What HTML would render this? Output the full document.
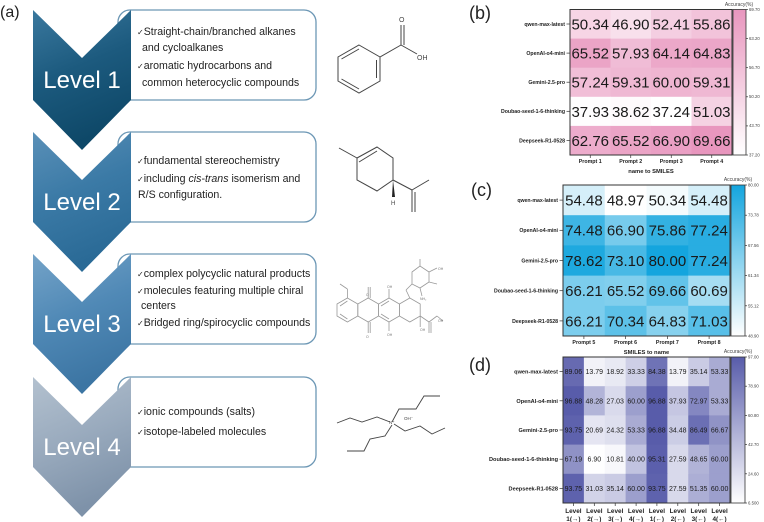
<!DOCTYPE html>
<html><head><meta charset="utf-8"><style>
html,body{margin:0;padding:0;background:#fff;}
svg{display:block;}
</style></head><body>
<svg width="764" height="522" viewBox="0 0 764 522" xmlns="http://www.w3.org/2000/svg" font-family="Liberation Sans, DejaVu Sans, sans-serif">
<defs>
<linearGradient id="g1" x1="0" y1="0" x2="0.3" y2="1"><stop offset="0" stop-color="#3a789e"/><stop offset="0.5" stop-color="#1c5a7e"/><stop offset="1" stop-color="#0e4868"/></linearGradient>
<linearGradient id="g2" x1="0" y1="0" x2="0.3" y2="1"><stop offset="0" stop-color="#5a90b8"/><stop offset="0.5" stop-color="#3b7aa6"/><stop offset="1" stop-color="#2a6a96"/></linearGradient>
<linearGradient id="g3" x1="0" y1="0" x2="0.3" y2="1"><stop offset="0" stop-color="#74a3c8"/><stop offset="0.5" stop-color="#5089b6"/><stop offset="1" stop-color="#3c75a3"/></linearGradient>
<linearGradient id="g4" x1="0" y1="0" x2="0.3" y2="1"><stop offset="0" stop-color="#b3c1cf"/><stop offset="0.5" stop-color="#9aabbe"/><stop offset="1" stop-color="#7e92a9"/></linearGradient>
<linearGradient id="cbp" x1="0" y1="1" x2="0" y2="0"><stop offset="0" stop-color="#ffffff"/><stop offset="1" stop-color="rgb(232,150,190)"/></linearGradient>
<linearGradient id="cbb" x1="0" y1="1" x2="0" y2="0"><stop offset="0" stop-color="#ffffff"/><stop offset="1" stop-color="rgb(20,165,222)"/></linearGradient>
<linearGradient id="cbd" x1="0" y1="1" x2="0" y2="0"><stop offset="0" stop-color="#ffffff"/><stop offset="1" stop-color="rgb(88,92,170)"/></linearGradient>
</defs>

<!-- (a) -->
<text x="0" y="17" font-size="16" fill="#222">(a)</text>

<!-- boxes -->
<g fill="#fff" stroke="#6c97b5" stroke-width="1.3">
<rect x="118" y="10" width="198" height="90" rx="12"/>
<rect x="118" y="132" width="198" height="90" rx="12"/>
<rect x="118" y="254" width="198" height="90" rx="12"/>
<rect x="118" y="377" width="198" height="90" rx="12"/>
</g>
<!-- chevrons -->
<polygon points="33,10 82,58 131,10 131,100 82,150 33,100" fill="url(#g1)"/>
<polygon points="33,132 82,180 131,132 131,222 82,272 33,222" fill="url(#g2)"/>
<polygon points="33,254 82,302 131,254 131,344 82,394 33,344" fill="url(#g3)"/>
<polygon points="33,377 82,425 131,377 131,467 82,517 33,467" fill="url(#g4)"/>
<g fill="#fff" font-size="24" text-anchor="middle">
<text x="82" y="88">Level 1</text>
<text x="82" y="210">Level 2</text>
<text x="82" y="332">Level 3</text>
<text x="82" y="455">Level 4</text>
</g>
<g font-size="10.6" fill="#222">
<text x="137" y="35"><tspan font-size="8" font-family="DejaVu Sans, sans-serif">✓</tspan>Straight-chain/branched alkanes</text>
<text x="142" y="51">and cycloalkanes</text>
<text x="137" y="69"><tspan font-size="8" font-family="DejaVu Sans, sans-serif">✓</tspan>aromatic hydrocarbons and</text>
<text x="142" y="86">common heterocyclic compounds</text>
<text x="137" y="164"><tspan font-size="8" font-family="DejaVu Sans, sans-serif">✓</tspan>fundamental stereochemistry</text>
<text x="137" y="182"><tspan font-size="8" font-family="DejaVu Sans, sans-serif">✓</tspan>including <tspan font-style="italic">cis-trans</tspan> isomerism and</text>
<text x="138" y="198">R/S configuration.</text>
<text x="137" y="277"><tspan font-size="8" font-family="DejaVu Sans, sans-serif">✓</tspan>complex polycyclic natural products</text>
<text x="137" y="294"><tspan font-size="8" font-family="DejaVu Sans, sans-serif">✓</tspan>molecules featuring multiple chiral</text>
<text x="141" y="309">centers</text>
<text x="137" y="326"><tspan font-size="8" font-family="DejaVu Sans, sans-serif">✓</tspan>Bridged ring/spirocyclic compounds</text>
<text x="137" y="415"><tspan font-size="8" font-family="DejaVu Sans, sans-serif">✓</tspan>ionic compounds (salts)</text>
<text x="137" y="435"><tspan font-size="8" font-family="DejaVu Sans, sans-serif">✓</tspan>isotope-labeled molecules</text>
</g>

<!-- molecule 1: benzoic acid -->
<g stroke="#444" stroke-width="1" fill="none">
<polygon points="359,45 380,57 380,81 359,93 338,81 338,57"/>
<line x1="341.5" y1="59" x2="359" y2="49"/>
<line x1="376.5" y1="60" x2="376.5" y2="78"/>
<line x1="359" y1="89" x2="341.5" y2="79"/>
<line x1="380" y1="57" x2="401" y2="45"/>
<line x1="401" y1="45" x2="401" y2="25"/>
<line x1="404" y1="45" x2="404" y2="25"/>
<line x1="401" y1="45" x2="417" y2="54"/>
</g>
<g font-size="7" fill="#444"><text x="399" y="22">O</text><text x="417" y="60">OH</text></g>

<!-- molecule 2: limonene -->
<g stroke="#444" stroke-width="1" fill="none">
<polyline points="357,158 377,147 393,158 393,180 377,191 357,180 357,158"/>
<line x1="359" y1="162" x2="377" y2="151"/>
<line x1="339" y1="148" x2="357" y2="158"/>
<line x1="393" y1="180" x2="412" y2="190"/>
<line x1="412" y1="190" x2="429" y2="180"/>
<line x1="412" y1="190" x2="412" y2="212"/>
<line x1="415" y1="192" x2="415" y2="212"/>
</g>
<polygon points="393,180 392,197 395,197" fill="#222"/>
<text x="391" y="205" font-size="6" fill="#444">H</text>

<!-- molecule 3: doxorubicin-like -->
<g stroke="#999" stroke-width="0.8" fill="none">
<polygon points="347.4,298 357.8,304 357.8,316 347.4,322 337,316 337,304"/>
<polygon points="368.2,298 378.6,304 378.6,316 368.2,322 357.8,316 357.8,304"/>
<polygon points="389,298 399.4,304 399.4,316 389,322 378.6,316 378.6,304"/>
<polygon points="409.8,298 420.2,304 420.2,316 409.8,322 399.4,316 399.4,304"/>
<line x1="340" y1="306" x2="347.4" y2="301"/>
<line x1="340" y1="314" x2="347.4" y2="319"/>
<line x1="381" y1="306" x2="389" y2="301"/>
<line x1="381" y1="314" x2="389" y2="319"/>
<line x1="347.4" y1="298" x2="347.4" y2="289"/>
<line x1="347.4" y1="289" x2="340" y2="284"/>
<line x1="368.2" y1="298" x2="368.2" y2="287"/>
<line x1="370.2" y1="298" x2="370.2" y2="287"/>
<line x1="368.2" y1="322" x2="368.2" y2="333"/>
<line x1="370.2" y1="322" x2="370.2" y2="333"/>
<line x1="389" y1="298" x2="389" y2="289"/>
<line x1="389" y1="322" x2="389" y2="331"/>
<line x1="409.8" y1="298" x2="406" y2="290"/>
<line x1="406" y1="290" x2="412" y2="284"/>
<polygon points="412,284 412,272 420,266 429,272 429,282 420,288"/>
<line x1="420" y1="266" x2="420" y2="259"/>
<line x1="429" y1="272" x2="437" y2="268"/>
<line x1="429" y1="282" x2="437" y2="284"/>
<line x1="420" y1="288" x2="422" y2="296"/>
<line x1="420.2" y1="316" x2="429" y2="322"/>
<line x1="420.2" y1="316" x2="420.2" y2="327"/>
<line x1="429" y1="322" x2="429" y2="333"/>
<line x1="431" y1="322" x2="431" y2="333"/>
<line x1="429" y1="322" x2="437" y2="316"/>
<line x1="437" y1="316" x2="443" y2="321"/>
</g>
<g font-size="3.5" fill="#777"><text x="366" y="296">O</text><text x="366" y="338">O</text><text x="387" y="288">OH</text><text x="387" y="336">OH</text><text x="420" y="331">OH</text><text x="438" y="322">OH</text><text x="438" y="270">OH</text><text x="420" y="300">NH₂</text></g>

<!-- molecule 4: TBAOH -->
<g stroke="#444" stroke-width="0.9" fill="none">
<polyline points="392,422 399,409 416,409 424,396 440,396"/>
<polyline points="390,422 377,417 362,422 350,418 337,423"/>
<polyline points="394,424 405,431 420,426 432,434 445,428"/>
<polyline points="392,425 385,436 370,439 364,451 347,451"/>
</g>
<g font-size="4.5" fill="#444"><text x="389" y="424">N⁺</text><text x="404" y="420">OH⁻</text></g>

<!-- panel labels -->
<g font-size="18" fill="#222"><text x="469" y="19">(b)</text><text x="471" y="196">(c)</text><text x="469" y="371">(d)</text></g>

<!-- (b) heatmap -->
<g>
<rect x="570" y="9.5" width="41" height="29.6" fill="rgb(247,213,229)"/>
<rect x="610.5" y="9.5" width="41" height="29.6" fill="rgb(248,224,236)"/>
<rect x="651" y="9.5" width="41" height="29.6" fill="rgb(244,206,225)"/>
<rect x="691.5" y="9.5" width="40.5" height="29.6" fill="rgb(242,195,218)"/>
<rect x="570" y="38.6" width="41" height="29.6" fill="rgb(235,164,198)"/>
<rect x="610.5" y="38.6" width="41" height="29.6" fill="rgb(240,188,214)"/>
<rect x="651" y="38.6" width="41" height="29.6" fill="rgb(236,168,201)"/>
<rect x="691.5" y="38.6" width="40.5" height="29.6" fill="rgb(235,166,200)"/>
<rect x="570" y="67.7" width="41" height="29.6" fill="rgb(241,190,215)"/>
<rect x="610.5" y="67.7" width="41" height="29.6" fill="rgb(239,184,211)"/>
<rect x="651" y="67.7" width="41" height="29.6" fill="rgb(239,181,209)"/>
<rect x="691.5" y="67.7" width="40.5" height="29.6" fill="rgb(239,184,211)"/>
<rect x="570" y="96.8" width="41" height="29.6" fill="rgb(254,253,254)"/>
<rect x="610.5" y="96.8" width="41" height="29.6" fill="rgb(254,250,252)"/>
<rect x="651" y="96.8" width="41" height="29.6" fill="rgb(255,255,255)"/>
<rect x="691.5" y="96.8" width="40.5" height="29.6" fill="rgb(245,210,227)"/>
<rect x="570" y="125.9" width="41" height="29.1" fill="rgb(237,172,204)"/>
<rect x="610.5" y="125.9" width="41" height="29.1" fill="rgb(235,164,198)"/>
<rect x="651" y="125.9" width="41" height="29.1" fill="rgb(234,159,196)"/>
<rect x="691.5" y="125.9" width="40.5" height="29.1" fill="rgb(232,150,190)"/>
<rect x="570" y="9.5" width="162" height="145.5" fill="none" stroke="#333" stroke-width="1"/>
<rect x="733" y="9.5" width="13" height="145.5" fill="url(#cbp)" stroke="#333" stroke-width="0.8"/>
</g>
<g font-size="15" fill="#1a1a1a" text-anchor="middle">
<text x="590.25" y="29.5">50.34</text><text x="630.75" y="29.5">46.90</text><text x="671.25" y="29.5">52.41</text><text x="711.75" y="29.5">55.86</text>
<text x="590.25" y="58.6">65.52</text><text x="630.75" y="58.6">57.93</text><text x="671.25" y="58.6">64.14</text><text x="711.75" y="58.6">64.83</text>
<text x="590.25" y="87.7">57.24</text><text x="630.75" y="87.7">59.31</text><text x="671.25" y="87.7">60.00</text><text x="711.75" y="87.7">59.31</text>
<text x="590.25" y="116.8">37.93</text><text x="630.75" y="116.8">38.62</text><text x="671.25" y="116.8">37.24</text><text x="711.75" y="116.8">51.03</text>
<text x="590.25" y="145.9">62.76</text><text x="630.75" y="145.9">65.52</text><text x="671.25" y="145.9">66.90</text><text x="711.75" y="145.9">69.66</text>
</g>
<g font-size="5.2" font-weight="bold" fill="#222" text-anchor="end">
<text x="565" y="25.9">qwen-max-latest</text>
<text x="565" y="55">OpenAI-o4-mini</text>
<text x="565" y="84.1">Gemini-2.5-pro</text>
<text x="565" y="113.2">Doubao-seed-1-6-thinking</text>
<text x="565" y="142.3">Deepseek-R1-0528</text>
</g>
<g stroke="#333" stroke-width="0.7">
<line x1="566.5" y1="24" x2="570" y2="24"/><line x1="566.5" y1="53.1" x2="570" y2="53.1"/><line x1="566.5" y1="82.2" x2="570" y2="82.2"/><line x1="566.5" y1="111.3" x2="570" y2="111.3"/><line x1="566.5" y1="140.4" x2="570" y2="140.4"/>
<line x1="590.25" y1="155" x2="590.25" y2="158"/><line x1="630.75" y1="155" x2="630.75" y2="158"/><line x1="671.25" y1="155" x2="671.25" y2="158"/><line x1="711.75" y1="155" x2="711.75" y2="158"/>
<line x1="746" y1="9.5" x2="748" y2="9.5"/><line x1="746" y1="38.6" x2="748" y2="38.6"/><line x1="746" y1="67.7" x2="748" y2="67.7"/><line x1="746" y1="96.8" x2="748" y2="96.8"/><line x1="746" y1="125.9" x2="748" y2="125.9"/><line x1="746" y1="155" x2="748" y2="155"/>
</g>
<g font-size="5.3" font-weight="bold" fill="#222" text-anchor="middle">
<text x="590.25" y="163">Prompt 1</text><text x="630.75" y="163">Prompt 2</text><text x="671.25" y="163">Prompt 3</text><text x="711.75" y="163">Prompt 4</text>
<text x="651" y="173" font-size="5.8">name to SMILES</text>
</g>
<g font-size="4.3" fill="#444">
<text x="749" y="11">69.70</text><text x="749" y="40">63.20</text><text x="749" y="69">56.70</text><text x="749" y="98">50.20</text><text x="749" y="127">43.70</text><text x="749" y="156.5">37.20</text>
<text x="739" y="6" text-anchor="middle" font-size="5">Accuracy(%)</text>
</g>

<!-- (c) heatmap -->
<g>
<rect x="563" y="185" width="42.25" height="30.7" fill="rgb(213,239,249)"/>
<rect x="604.75" y="185" width="42.25" height="30.7" fill="rgb(255,255,255)"/>
<rect x="646.5" y="185" width="42.25" height="30.7" fill="rgb(244,251,253)"/>
<rect x="688.25" y="185" width="41.75" height="30.7" fill="rgb(213,239,249)"/>
<rect x="563" y="215.2" width="42.25" height="30.7" fill="rgb(62,181,228)"/>
<rect x="604.75" y="215.2" width="42.25" height="30.7" fill="rgb(119,203,236)"/>
<rect x="646.5" y="215.2" width="42.25" height="30.7" fill="rgb(51,177,226)"/>
<rect x="688.25" y="215.2" width="41.75" height="30.7" fill="rgb(41,173,225)"/>
<rect x="563" y="245.4" width="42.25" height="30.7" fill="rgb(30,169,223)"/>
<rect x="604.75" y="245.4" width="42.25" height="30.7" fill="rgb(72,185,229)"/>
<rect x="646.5" y="245.4" width="42.25" height="30.7" fill="rgb(20,165,222)"/>
<rect x="688.25" y="245.4" width="41.75" height="30.7" fill="rgb(41,173,225)"/>
<rect x="563" y="275.6" width="42.25" height="30.7" fill="rgb(124,205,237)"/>
<rect x="604.75" y="275.6" width="42.25" height="30.7" fill="rgb(129,207,237)"/>
<rect x="646.5" y="275.6" width="42.25" height="30.7" fill="rgb(98,195,233)"/>
<rect x="688.25" y="275.6" width="41.75" height="30.7" fill="rgb(166,221,242)"/>
<rect x="563" y="305.8" width="42.25" height="30.2" fill="rgb(124,205,237)"/>
<rect x="604.75" y="305.8" width="42.25" height="30.2" fill="rgb(93,193,232)"/>
<rect x="646.5" y="305.8" width="42.25" height="30.2" fill="rgb(135,209,238)"/>
<rect x="688.25" y="305.8" width="41.75" height="30.2" fill="rgb(88,191,232)"/>
<rect x="563" y="185" width="167" height="151" fill="none" stroke="#333" stroke-width="1"/>
<rect x="731" y="185" width="14" height="151" fill="url(#cbb)" stroke="#333" stroke-width="0.8"/>
</g>
<g font-size="15" fill="#1a1a1a" text-anchor="middle">
<text x="583.9" y="205.5">54.48</text><text x="625.6" y="205.5">48.97</text><text x="667.4" y="205.5">50.34</text><text x="709.1" y="205.5">54.48</text>
<text x="583.9" y="235.7">74.48</text><text x="625.6" y="235.7">66.90</text><text x="667.4" y="235.7">75.86</text><text x="709.1" y="235.7">77.24</text>
<text x="583.9" y="265.9">78.62</text><text x="625.6" y="265.9">73.10</text><text x="667.4" y="265.9">80.00</text><text x="709.1" y="265.9">77.24</text>
<text x="583.9" y="296.1">66.21</text><text x="625.6" y="296.1">65.52</text><text x="667.4" y="296.1">69.66</text><text x="709.1" y="296.1">60.69</text>
<text x="583.9" y="326.3">66.21</text><text x="625.6" y="326.3">70.34</text><text x="667.4" y="326.3">64.83</text><text x="709.1" y="326.3">71.03</text>
</g>
<g font-size="5.2" font-weight="bold" fill="#222" text-anchor="end">
<text x="558" y="202">qwen-max-latest</text>
<text x="558" y="232.2">OpenAI-o4-mini</text>
<text x="558" y="262.4">Gemini-2.5-pro</text>
<text x="558" y="292.6">Doubao-seed-1-6-thinking</text>
<text x="558" y="322.8">Deepseek-R1-0528</text>
</g>
<g stroke="#333" stroke-width="0.7">
<line x1="559.5" y1="200.1" x2="563" y2="200.1"/><line x1="559.5" y1="230.3" x2="563" y2="230.3"/><line x1="559.5" y1="260.5" x2="563" y2="260.5"/><line x1="559.5" y1="290.7" x2="563" y2="290.7"/><line x1="559.5" y1="320.9" x2="563" y2="320.9"/>
<line x1="583.9" y1="336" x2="583.9" y2="339"/><line x1="625.6" y1="336" x2="625.6" y2="339"/><line x1="667.4" y1="336" x2="667.4" y2="339"/><line x1="709.1" y1="336" x2="709.1" y2="339"/>
<line x1="745" y1="185" x2="747" y2="185"/><line x1="745" y1="215.2" x2="747" y2="215.2"/><line x1="745" y1="245.4" x2="747" y2="245.4"/><line x1="745" y1="275.6" x2="747" y2="275.6"/><line x1="745" y1="305.8" x2="747" y2="305.8"/><line x1="745" y1="336" x2="747" y2="336"/>
</g>
<g font-size="5.3" font-weight="bold" fill="#222" text-anchor="middle">
<text x="583.9" y="344">Prompt 5</text><text x="625.6" y="344">Prompt 6</text><text x="667.4" y="344">Prompt 7</text><text x="709.1" y="344">Prompt 8</text>
<text x="646.5" y="354" font-size="5.8">SMILES to name</text>
</g>
<g font-size="4.3" fill="#444">
<text x="748" y="186.5">80.00</text><text x="748" y="216.7">73.78</text><text x="748" y="246.9">67.56</text><text x="748" y="277.1">61.34</text><text x="748" y="307.3">55.12</text><text x="748" y="337.5">48.90</text>
<text x="738" y="181" text-anchor="middle" font-size="5">Accuracy(%)</text>
</g>

<!-- (d) heatmap -->
<g>
<rect x="563" y="357" width="21.4" height="29.7" fill="rgb(103,106,177)"/>
<rect x="583.875" y="357" width="21.4" height="29.7" fill="rgb(242,242,248)"/>
<rect x="604.75" y="357" width="21.4" height="29.7" fill="rgb(232,233,243)"/>
<rect x="625.625" y="357" width="21.4" height="29.7" fill="rgb(206,207,230)"/>
<rect x="646.5" y="357" width="21.4" height="29.7" fill="rgb(111,115,182)"/>
<rect x="667.375" y="357" width="21.4" height="29.7" fill="rgb(242,242,248)"/>
<rect x="688.25" y="357" width="21.4" height="29.7" fill="rgb(202,203,228)"/>
<rect x="709.125" y="357" width="20.875" height="29.7" fill="rgb(169,171,211)"/>

<rect x="563" y="386.2" width="21.4" height="29.7" fill="rgb(88,92,170)"/>
<rect x="583.875" y="386.2" width="21.4" height="29.7" fill="rgb(178,180,216)"/>
<rect x="604.75" y="386.2" width="21.4" height="29.7" fill="rgb(217,218,236)"/>
<rect x="625.625" y="386.2" width="21.4" height="29.7" fill="rgb(156,159,205)"/>
<rect x="646.5" y="386.2" width="21.4" height="29.7" fill="rgb(88,92,170)"/>
<rect x="667.375" y="386.2" width="21.4" height="29.7" fill="rgb(197,198,226)"/>
<rect x="688.25" y="386.2" width="21.4" height="29.7" fill="rgb(132,135,193)"/>
<rect x="709.125" y="386.2" width="20.875" height="29.7" fill="rgb(169,171,211)"/>

<rect x="563" y="415.4" width="21.4" height="29.7" fill="rgb(94,98,173)"/>
<rect x="583.875" y="415.4" width="21.4" height="29.7" fill="rgb(229,229,242)"/>
<rect x="604.75" y="415.4" width="21.4" height="29.7" fill="rgb(222,223,238)"/>
<rect x="625.625" y="415.4" width="21.4" height="29.7" fill="rgb(169,171,211)"/>
<rect x="646.5" y="415.4" width="21.4" height="29.7" fill="rgb(88,92,170)"/>
<rect x="667.375" y="415.4" width="21.4" height="29.7" fill="rgb(203,205,229)"/>
<rect x="688.25" y="415.4" width="21.4" height="29.7" fill="rgb(107,111,180)"/>
<rect x="709.125" y="415.4" width="20.875" height="29.7" fill="rgb(144,147,198)"/>

<rect x="563" y="444.6" width="21.4" height="29.7" fill="rgb(143,146,198)"/>
<rect x="583.875" y="444.6" width="21.4" height="29.7" fill="rgb(254,254,255)"/>
<rect x="604.75" y="444.6" width="21.4" height="29.7" fill="rgb(247,247,251)"/>
<rect x="625.625" y="444.6" width="21.4" height="29.7" fill="rgb(193,195,224)"/>
<rect x="646.5" y="444.6" width="21.4" height="29.7" fill="rgb(91,95,172)"/>
<rect x="667.375" y="444.6" width="21.4" height="29.7" fill="rgb(216,217,235)"/>
<rect x="688.25" y="444.6" width="21.4" height="29.7" fill="rgb(177,179,215)"/>
<rect x="709.125" y="444.6" width="20.875" height="29.7" fill="rgb(156,159,205)"/>

<rect x="563" y="473.8" width="21.4" height="29.2" fill="rgb(94,98,173)"/>
<rect x="583.875" y="473.8" width="21.4" height="29.2" fill="rgb(210,211,232)"/>
<rect x="604.75" y="473.8" width="21.4" height="29.2" fill="rgb(202,203,228)"/>
<rect x="625.625" y="473.8" width="21.4" height="29.2" fill="rgb(156,159,205)"/>
<rect x="646.5" y="473.8" width="21.4" height="29.2" fill="rgb(94,98,173)"/>
<rect x="667.375" y="473.8" width="21.4" height="29.2" fill="rgb(216,217,235)"/>
<rect x="688.25" y="473.8" width="21.4" height="29.2" fill="rgb(172,174,213)"/>
<rect x="709.125" y="473.8" width="20.875" height="29.2" fill="rgb(156,159,205)"/>
<rect x="563" y="357" width="167" height="146" fill="none" stroke="#333" stroke-width="1"/>
<rect x="731" y="357" width="14" height="146" fill="url(#cbd)" stroke="#333" stroke-width="0.8"/>
</g>
<g font-size="7" fill="#1a1a1a" text-anchor="middle">
<text x="573.4" y="374.1">89.06</text><text x="594.3" y="374.1">13.79</text><text x="615.2" y="374.1">18.92</text><text x="636.1" y="374.1">33.33</text><text x="656.9" y="374.1">84.38</text><text x="677.8" y="374.1">13.79</text><text x="698.7" y="374.1">35.14</text><text x="719.6" y="374.1">53.33</text>
<text x="573.4" y="403.3">96.88</text><text x="594.3" y="403.3">48.28</text><text x="615.2" y="403.3">27.03</text><text x="636.1" y="403.3">60.00</text><text x="656.9" y="403.3">96.88</text><text x="677.8" y="403.3">37.93</text><text x="698.7" y="403.3">72.97</text><text x="719.6" y="403.3">53.33</text>
<text x="573.4" y="432.5">93.75</text><text x="594.3" y="432.5">20.69</text><text x="615.2" y="432.5">24.32</text><text x="636.1" y="432.5">53.33</text><text x="656.9" y="432.5">96.88</text><text x="677.8" y="432.5">34.48</text><text x="698.7" y="432.5">86.49</text><text x="719.6" y="432.5">66.67</text>
<text x="573.4" y="461.7">67.19</text><text x="594.3" y="461.7">6.90</text><text x="615.2" y="461.7">10.81</text><text x="636.1" y="461.7">40.00</text><text x="656.9" y="461.7">95.31</text><text x="677.8" y="461.7">27.59</text><text x="698.7" y="461.7">48.65</text><text x="719.6" y="461.7">60.00</text>
<text x="573.4" y="490.9">93.75</text><text x="594.3" y="490.9">31.03</text><text x="615.2" y="490.9">35.14</text><text x="636.1" y="490.9">60.00</text><text x="656.9" y="490.9">93.75</text><text x="677.8" y="490.9">27.59</text><text x="698.7" y="490.9">51.35</text><text x="719.6" y="490.9">60.00</text>
</g>
<g font-size="5.6" font-weight="bold" fill="#222" text-anchor="end">
<text x="558" y="373.6">qwen-max-latest</text>
<text x="558" y="402.8">OpenAI-o4-mini</text>
<text x="558" y="432">Gemini-2.5-pro</text>
<text x="558" y="461.2">Doubao-seed-1-6-thinking</text>
<text x="558" y="490.4">Deepseek-R1-0528</text>
</g>
<g stroke="#333" stroke-width="0.7">
<line x1="559.5" y1="371.6" x2="563" y2="371.6"/><line x1="559.5" y1="400.8" x2="563" y2="400.8"/><line x1="559.5" y1="430" x2="563" y2="430"/><line x1="559.5" y1="459.2" x2="563" y2="459.2"/><line x1="559.5" y1="488.4" x2="563" y2="488.4"/>
<line x1="573.4" y1="503" x2="573.4" y2="506"/><line x1="594.3" y1="503" x2="594.3" y2="506"/><line x1="615.2" y1="503" x2="615.2" y2="506"/><line x1="636.1" y1="503" x2="636.1" y2="506"/><line x1="656.9" y1="503" x2="656.9" y2="506"/><line x1="677.8" y1="503" x2="677.8" y2="506"/><line x1="698.7" y1="503" x2="698.7" y2="506"/><line x1="719.6" y1="503" x2="719.6" y2="506"/>
<line x1="745" y1="357" x2="747" y2="357"/><line x1="745" y1="386.2" x2="747" y2="386.2"/><line x1="745" y1="415.4" x2="747" y2="415.4"/><line x1="745" y1="444.6" x2="747" y2="444.6"/><line x1="745" y1="473.8" x2="747" y2="473.8"/><line x1="745" y1="503" x2="747" y2="503"/>
</g>
<g font-size="6.4" font-weight="bold" fill="#222" text-anchor="middle">
<text x="573.4" y="513">Level</text><text x="594.3" y="513">Level</text><text x="615.2" y="513">Level</text><text x="636.1" y="513">Level</text><text x="656.9" y="513">Level</text><text x="677.8" y="513">Level</text><text x="698.7" y="513">Level</text><text x="719.6" y="513">Level</text>
<text x="573.4" y="521">1(→)</text><text x="594.3" y="521">2(→)</text><text x="615.2" y="521">3(→)</text><text x="636.1" y="521">4(→)</text><text x="656.9" y="521">1(←)</text><text x="677.8" y="521">2(←)</text><text x="698.7" y="521">3(←)</text><text x="719.6" y="521">4(←)</text>
</g>
<g font-size="4.3" fill="#444">
<text x="748" y="358.5">97.00</text><text x="748" y="387.7">78.90</text><text x="748" y="416.9">60.80</text><text x="748" y="446.1">42.70</text><text x="748" y="475.3">24.60</text><text x="748" y="504.5">6.500</text>
<text x="738" y="353" text-anchor="middle" font-size="5">Accuracy(%)</text>
</g>
</svg>
</body></html>
